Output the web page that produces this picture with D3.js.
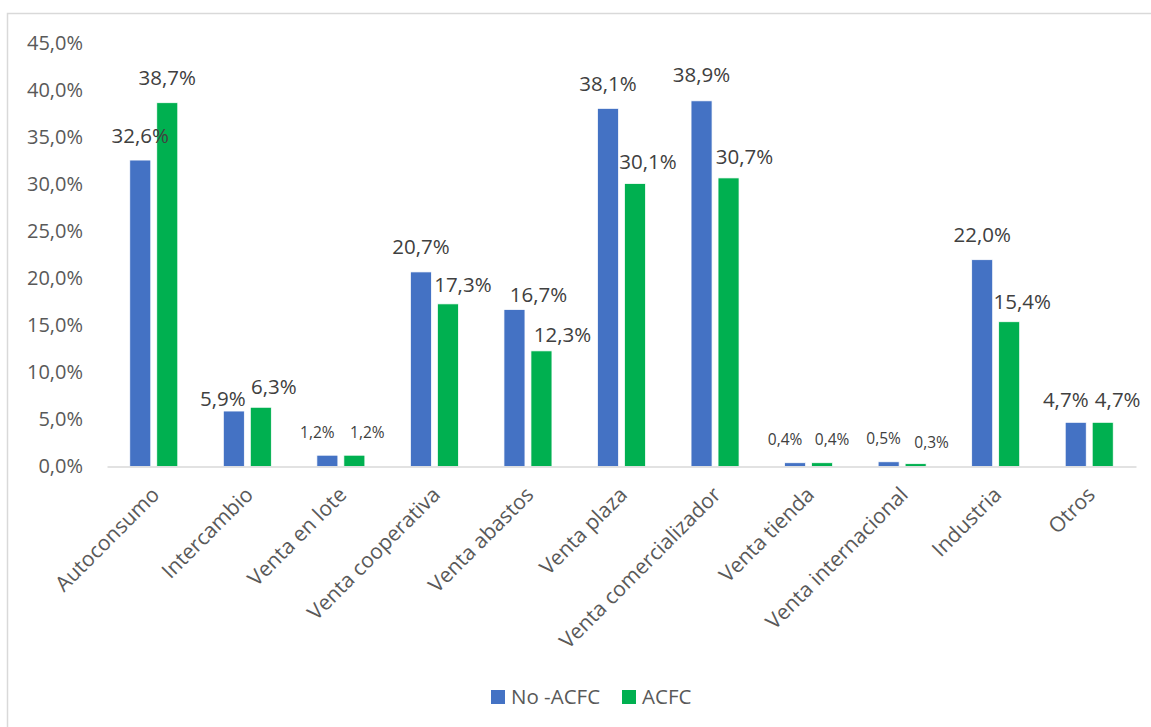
<!DOCTYPE html>
<html>
<head>
<meta charset="utf-8">
<script src="https://cdn.jsdelivr.net/npm/d3@7"></script>
<style>
  html, body { margin: 0; padding: 0; background: #fff; }
  svg { display: block; font-family: "Open Sans", Lato, sans-serif; }
</style>
</head>
<body>
<svg id="chart" width="1151" height="727"></svg>
<script>
// ---- data ----
const categories = ["Autoconsumo", "Intercambio", "Venta en lote", "Venta cooperativa", "Venta abastos",
  "Venta plaza", "Venta comercializador", "Venta tienda", "Venta internacional", "Industria", "Otros"];
const seriesNames = ["No -ACFC", "ACFC"];
const noAcfc = [32.6, 5.9, 1.2, 20.7, 16.7, 38.1, 38.9, 0.4, 0.5, 22.0, 4.7];
const acfc   = [38.7, 6.3, 1.2, 17.3, 12.3, 30.1, 30.7, 0.4, 0.3, 15.4, 4.7];
const yTicks = [0, 5, 10, 15, 20, 25, 30, 35, 40, 45];

// ---- layout (label nudges, in px) ----
const nudgeNo   = [[0,0],[-11,12.5],[-10,0],[0,0],[24,9.5],[0,0],[0,-1],[-10,0],[-5,0],[0,0],[-10,2]];
const nudgeAcfc = [[0,0],[13,4.5],[13,0],[15,5.5],[21,8.5],[13,2.5],[16,3.5],[10,0],[16,2],[13,5],[15,2]];

const colors = ["#4472C4", "#00B050"];
const locale = d3.formatLocale({decimal: ",", thousands: ".", grouping: [3], currency: ["", "€"]});
const fmt = v => locale.format(".1f")(v) + "%";

const svg = d3.select("#chart");

// frame
svg.append("rect")
  .attr("x", 7.5).attr("y", 13.5).attr("width", 1150).attr("height", 730)
  .attr("fill", "none").attr("stroke", "#D9D9D9").attr("stroke-width", 1.5);

const x0 = d3.scaleBand().domain(categories).range([107, 1136]).paddingInner(0.487).paddingOuter(0.2435);
const x1 = d3.scaleBand().domain(seriesNames).range([0, x0.bandwidth()]).paddingInner(0.222);
const y = d3.scaleLinear().domain([0, 45]).range([466.5, 43.5]);

// y axis labels
const yAxis = d3.axisLeft(y).tickValues(yTicks).tickFormat(fmt).tickSize(0).tickPadding(0);
const gy = svg.append("g").attr("transform", "translate(83,0)").call(yAxis);
gy.select(".domain").remove();
gy.selectAll("text").attr("fill", "#595959").style("font-size", "20px")
  .style("font-family", "'Open Sans', Lato, sans-serif");

// bars
const data = categories.map((c, i) => ({c, i, vals: [noAcfc[i], acfc[i]]}));
const groups = svg.append("g").selectAll("g").data(data).join("g")
  .attr("transform", d => `translate(${x0(d.c)},0)`);
groups.selectAll("rect").data(d => d.vals.map((v, k) => ({v, k, i: d.i})))
  .join("rect")
  .attr("x", d => x1(seriesNames[d.k]))
  .attr("width", x1.bandwidth())
  .attr("y", d => y(d.v))
  .attr("height", d => y(0) - y(d.v))
  .attr("fill", d => colors[d.k])
  .attr("stroke", "#fff").attr("stroke-width", 0.75);

// axis baseline
const gx = svg.append("g").attr("transform", `translate(0,${y(0)})`)
  .call(d3.axisBottom(x0).tickSize(0).tickFormat(""));
gx.select(".domain").attr("stroke", "#D9D9D9").attr("stroke-width", 1.5);

// data labels
groups.selectAll("text.lbl").data(d => d.vals.map((v, k) => ({v, k, i: d.i})))
  .join("text").attr("class", "lbl")
  .attr("x", d => x1(seriesNames[d.k]) + x1.bandwidth() / 2 + (d.k === 0 ? nudgeNo : nudgeAcfc)[d.i][0])
  .attr("y", d => y(d.v) - 17.5 + (d.k === 0 ? nudgeNo : nudgeAcfc)[d.i][1])
  .attr("text-anchor", "middle")
  .attr("fill", "#404040")
  .style("font-size", d => d.v < 2 ? "15.5px" : "20.5px")
  .text(d => fmt(d.v));

// category labels
svg.append("g").selectAll("text").data(categories).join("text")
  .attr("transform", c => `translate(${x0(c) + x0.bandwidth() / 2 + 7},496) rotate(-45)`)
  .attr("text-anchor", "end")
  .attr("fill", "#595959")
  .style("font-size", "21px")
  .text(c => c);

// legend
const legend = svg.append("g");
const legX = [491, 622];
seriesNames.forEach((s, k) => {
  legend.append("rect").attr("x", legX[k]).attr("y", 690).attr("width", 14).attr("height", 14).attr("fill", colors[k]);
  legend.append("text").attr("x", legX[k] + 20).attr("y", 704).attr("fill", "#595959")
    .style("font-size", "20.5px").text(s);
});
</script>
</body>
</html>
